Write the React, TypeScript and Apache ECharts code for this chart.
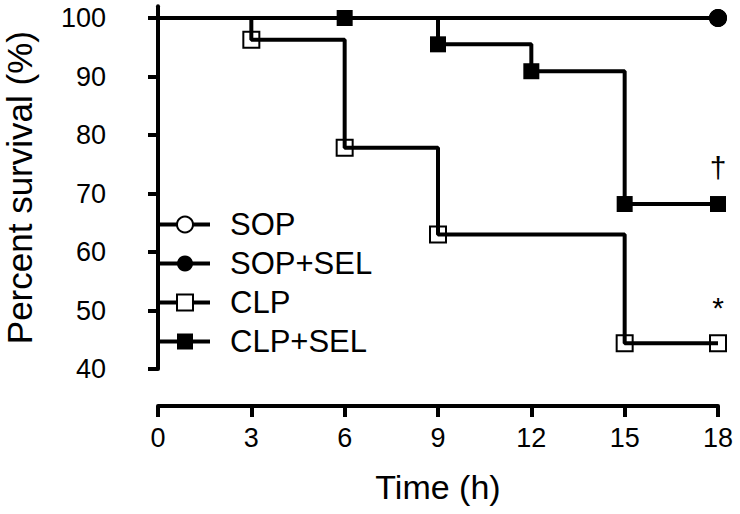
import React, { useEffect, useRef } from "react";
import * as echarts from "echarts";

const xTicks = [0, 3, 6, 9, 12, 15, 18];
const yTicks = [40, 50, 60, 70, 80, 90, 100];

const sopTimes = [0, 18];
const sopSurvival = [100, 100];

const sopSelTimes = [0, 18];
const sopSelSurvival = [100, 100];

const clpTimes = [0, 3, 6, 9, 15, 18];
const clpSurvival = [100, 96.3, 77.8, 63.0, 44.4, 44.4];

const clpSelTimes = [0, 6, 9, 12, 15, 18];
const clpSelSurvival = [100, 100, 95.5, 90.9, 68.2, 68.2];

const legendNames = ["SOP", "SOP+SEL", "CLP", "CLP+SEL"];
const hollowNames = ["SOP", "CLP"];

const FONT = "'Liberation Sans', Arial, Helvetica, sans-serif";

function buildData(times: number[], values: number[]) {
  return times.map((t, i) =>
    i === 0 ? { value: [t, values[i]], symbol: "none" } : { value: [t, values[i]] }
  );
}

export default function App() {
  const ref = useRef<HTMLDivElement>(null);
  useEffect(() => {
    document.body.style.margin = "0";
    if (!ref.current) return;
    const chart = echarts.init(ref.current, null, { renderer: "svg" });
    const lineStyle = { color: "#000", width: 4 };
    const hollow = { color: "rgba(255,255,255,0)", borderColor: "#000", borderWidth: 2 };
    const solid = { color: "#000", borderColor: "#000", borderWidth: 0 };
    chart.setOption({
      animation: false,
      grid: { left: 158, right: 22, top: 6.3, bottom: 145, containLabel: false, outerBoundsMode: "none" },
      legend: {
        orient: "vertical",
        left: 153,
        top: 204,
        itemWidth: 50,
        itemHeight: 20,
        itemGap: 8,
        lineStyle: { width: 4, color: "#000", opacity: 1 },
        textStyle: { fontFamily: FONT, fontSize: 31, color: "#000", padding: [0, 0, 0, 15] },
        data: legendNames.map((n) =>
          hollowNames.includes(n)
            ? { name: n, itemStyle: { color: "#fff", borderColor: "#000", borderWidth: 2 } }
            : { name: n }
        ),
      },
      xAxis: {
        type: "value",
        min: 0,
        max: 18,
        interval: 3,
        offset: 37,
        name: "Time (h)",
        nameLocation: "middle",
        nameGap: 64,
        nameTextStyle: { fontFamily: FONT, fontSize: 34, color: "#000" },
        axisLine: { show: true, lineStyle: { color: "#000", width: 4 } },
        axisTick: { show: true, length: 11, lineStyle: { color: "#000", width: 4 }, customValues: xTicks },
        axisLabel: { fontFamily: FONT, fontSize: 27, color: "#000", margin: 18, customValues: xTicks },
        splitLine: { show: false },
      },
      yAxis: {
        type: "value",
        min: 40,
        max: 102,
        interval: 10,
        offset: 40,
        name: "Percent survival (%)",
        nameLocation: "middle",
        nameGap: 81,
        nameTextStyle: { fontFamily: FONT, fontSize: 35, color: "#000" },
        axisLine: { show: true, lineStyle: { color: "#000", width: 4 } },
        axisTick: { show: true, length: 10, lineStyle: { color: "#000", width: 4 }, customValues: yTicks },
        axisLabel: { fontFamily: FONT, fontSize: 27, color: "#000", margin: 12, customValues: yTicks },
        splitLine: { show: false },
      },
      series: [
        {
          name: "SOP", type: "line", step: "end", data: buildData(sopTimes, sopSurvival),
          symbol: "circle", symbolSize: 16, showAllSymbol: true, lineStyle, itemStyle: hollow, z: 2,
        },
        {
          name: "SOP+SEL", type: "line", step: "end", data: buildData(sopSelTimes, sopSelSurvival),
          symbol: "circle", symbolSize: 18, showAllSymbol: true, lineStyle, itemStyle: solid, z: 3,
        },
        {
          name: "CLP", type: "line", step: "end", data: buildData(clpTimes, clpSurvival),
          symbol: "rect", symbolSize: 16, showAllSymbol: true, lineStyle, itemStyle: hollow, z: 4,
          markPoint: {
            symbol: "circle", symbolSize: 0,
            label: { show: true, position: "inside", formatter: "*", fontFamily: FONT, fontSize: 30, color: "#000" },
            data: [{ coord: [18, 50.5] }],
          },
        },
        {
          name: "CLP+SEL", type: "line", step: "end", data: buildData(clpSelTimes, clpSelSurvival),
          symbol: "rect", symbolSize: 16, showAllSymbol: true, lineStyle, itemStyle: solid, z: 5,
          markPoint: {
            symbol: "circle", symbolSize: 0,
            label: { show: true, position: "inside", formatter: "†", fontFamily: FONT, fontSize: 30, color: "#000" },
            data: [{ coord: [18, 74.5] }],
          },
        },
      ],
    });
    return () => chart.dispose();
  }, []);
  return <div ref={ref} style={{ width: 740, height: 514 }} />;
}
